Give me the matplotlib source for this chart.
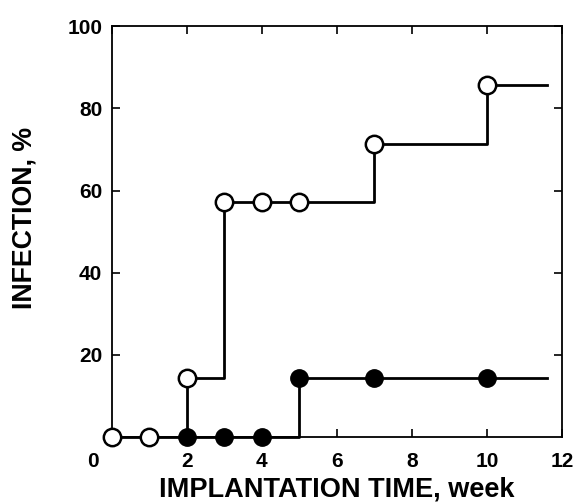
import numpy as np
import matplotlib.pyplot as plt
import matplotlib.transforms as mtransforms

plt.rcParams['font.family'] = ['Liberation Sans', 'DejaVu Sans']
plt.rcParams['font.weight'] = 'bold'

# open circles
open_weeks = [0, 1, 2, 3, 4, 5, 7, 10]
open_infection = [0, 0, 14.3, 57.1, 57.1, 57.1, 71.4, 85.7]
open_step_x = [0, 2, 3, 7, 10, 11.6]
open_step_y = [0, 14.3, 57.1, 71.4, 85.7, 85.7]

# filled circles
filled_weeks = [2, 3, 4, 5, 7, 10]
filled_infection = [0, 0, 0, 14.3, 14.3, 14.3]
filled_step_x = [2, 5, 11.6]
filled_step_y = [0, 14.3, 14.3]

x_ticks = [0, 2, 4, 6, 8, 10, 12]
y_ticks = [20, 40, 60, 80, 100]

fig = plt.figure(figsize=(5.74, 5.03), dpi=100)
ax = fig.add_axes([0.195, 0.131, 0.784, 0.817])

ax.plot(open_step_x, open_step_y, drawstyle='steps-post', color='black', lw=2, zorder=2, clip_on=False)
ax.plot(filled_step_x, filled_step_y, drawstyle='steps-post', color='black', lw=2, zorder=2, clip_on=False)
ax.plot(open_weeks, open_infection, 'o', ms=12.5, mfc='white', mec='black', mew=1.8, zorder=4, clip_on=False)
ax.plot(filled_weeks, filled_infection, 'o', ms=12.5, mfc='black', mec='black', zorder=3, clip_on=False)

ax.set_xlim(0, 12)
ax.set_ylim(0, 100)
ax.set_xticks(x_ticks)
ax.set_yticks(y_ticks)
ax.tick_params(direction='in', length=6, width=1.2, top=True, right=True, labelsize=15)
ax.tick_params(axis='x', pad=11)
ax.tick_params(axis='y', pad=7)
for s in ax.spines.values():
    s.set_linewidth(1.3)

# the "0" label sits left of the corner
off = mtransforms.ScaledTranslation(-19 / 100, 0, fig.dpi_scale_trans)
lbl0 = ax.get_xticklabels()[0]
lbl0.set_transform(lbl0.get_transform() + off)

ax.set_xlabel('IMPLANTATION TIME, week', fontsize=19.5, fontweight='bold', labelpad=4)
ax.set_ylabel('INFECTION, %', fontsize=19.3, fontweight='bold')
ax.yaxis.set_label_coords(-0.165, 0.533)

fig.savefig('out.png', dpi=100)
